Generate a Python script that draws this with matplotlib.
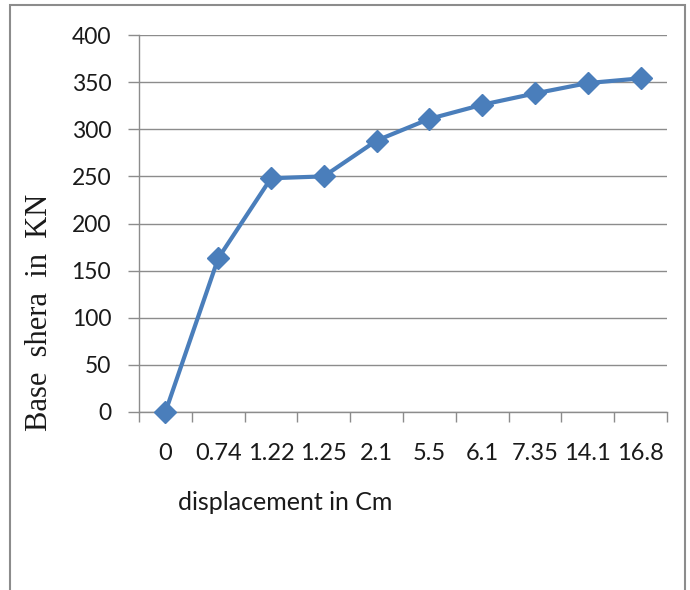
import matplotlib
matplotlib.use("Agg")
import matplotlib.pyplot as plt
from matplotlib.patches import Rectangle

# pushover curve: base shear vs roof displacement
displacement = ["0", "0.74", "1.22", "1.25", "2.1", "5.5", "6.1", "7.35", "14.1", "16.8"]
base_shear = [0, 163, 248, 250, 288, 311, 326, 338, 349, 354]
y_ticks = [0, 50, 100, 150, 200, 250, 300, 350, 400]

BLUE = "#4a7ebb"
GRID = "#8c8c8c"

fig = plt.figure(figsize=(6.9, 5.9), dpi=100)
ax = fig.add_axes([139 / 690, 1 - 412 / 590, (667 - 139) / 690, (412 - 35) / 590])

x = list(range(len(displacement)))
ax.plot(x, base_shear, "-", color=BLUE, lw=3, marker="D", ms=11.5,
        mfc=BLUE, mec=BLUE, zorder=3, clip_on=False)

ax.set_xlim(-0.5, len(displacement) - 0.5)
ax.set_ylim(0, 400)
ax.set_yticks(y_ticks)
ax.set_yticklabels([str(v) for v in y_ticks], fontfamily="Lato", fontsize=16.5,
                   color="#1a1a1a")
ax.grid(axis="y", color=GRID, lw=1)
ax.set_axisbelow(True)

# category labels centred, tick marks on the boundaries
ax.set_xticks(x)
ax.set_xticklabels(displacement, fontfamily="Lato", fontsize=17, color="#1a1a1a")
ax.set_xticks([i - 0.5 for i in range(len(displacement) + 1)], minor=True)
ax.tick_params(axis="x", which="major", length=0, pad=22)
ax.tick_params(axis="x", which="minor", length=7, color=GRID, width=1)
ax.tick_params(axis="y", length=8, color=GRID, width=1, pad=12)

for s in ("top", "right"):
    ax.spines[s].set_visible(False)
for s in ("left", "bottom"):
    ax.spines[s].set_color(GRID)
    ax.spines[s].set_linewidth(1)

fig.text(40 / 690, 1 - 312 / 590, "Base  shera  in  KN", rotation=90, ha="center",
         va="center", fontfamily="Liberation Serif", fontsize=22, color="#1a1a1a")
fig.text(285 / 690, 1 - 503 / 590, "displacement in Cm", ha="center", va="center",
         fontfamily="Lato", fontsize=18, color="#1a1a1a")

# outer chart border
fig.patches.append(Rectangle((10 / 690, -0.05), (685 - 10) / 690, 1.05 - 5 / 590,
                             transform=fig.transFigure, fill=False,
                             edgecolor="#8c8c8c", lw=1.5))

fig.savefig("out.png", dpi=100)
